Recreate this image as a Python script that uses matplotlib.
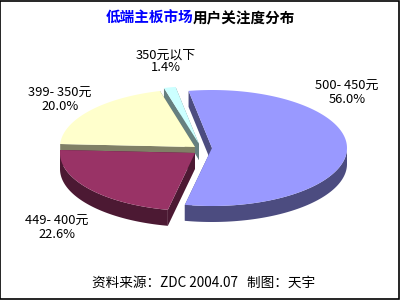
import numpy as np
import matplotlib
matplotlib.use("Agg")
import matplotlib.pyplot as plt
from matplotlib.patches import Polygon, Rectangle

plt.rcParams['font.family'] = ['Noto Sans CJK SC', 'DejaVu Sans']

# === Data ===
price_ranges = ["500- 450元", "449- 400元", "399- 350元", "350元以下"]
shares = [56.0, 22.6, 20.0, 1.4]
top_colors = ["#9999FF", "#993366", "#FFFFCC", "#CCFFFF"]
side_colors = ["#4C4C80", "#4C1933", "#808066", "#668080"]

# explode offsets (pixels) and label anchors
offsets = [(17, 1), (0, 6), (0, 0), (4, -3)]
label_pos = [(347, 93), (57, 228), (60, 100), (166, 61)]

# === Pie geometry (pixel space) ===
CX, CY = 195, 147
RX, RY = 135, 58
DEPTH = 16
START = 100.0  # degrees, slices go clockwise


def pt(cx, cy, ang, dz=0):
    a = np.radians(ang)
    return cx + RX * np.cos(a), cy - RY * np.sin(a) + dz


fig = plt.figure(figsize=(4, 3), dpi=100)
ax = fig.add_axes([0, 0, 1, 1])
ax.set_xlim(0, 400)
ax.set_ylim(300, 0)
ax.axis('off')

# slice angle ranges
slices = []
a = START
for i, s in enumerate(shares):
    a2 = a - s * 3.6
    slices.append((i, a2, a))  # ccw range [a2, a]
    a = a2

# back to front: by sin of mid angle
order = sorted(slices, key=lambda t: -np.sin(np.radians((t[1] + t[2]) / 2)))

for i, lo, hi in order:
    cx, cy = CX + offsets[i][0], CY + offsets[i][1]
    # radial faces
    for edge in (lo, hi):
        ex, ey = pt(cx, cy, edge)
        face = [(cx, cy), (ex, ey), (ex, ey + DEPTH), (cx, cy + DEPTH)]
        ax.add_patch(Polygon(face, closed=True, fc=side_colors[i], ec='none'))
    # outer wall (front half only)
    angs = np.linspace(lo, hi, 200)
    front = angs[np.sin(np.radians(angs)) <= 0]
    if len(front) > 1:
        upper = [pt(cx, cy, t) for t in front]
        lower = [pt(cx, cy, t, DEPTH) for t in front[::-1]]
        ax.add_patch(Polygon(upper + lower, closed=True, fc=side_colors[i], ec='none'))
    # top
    top = [(cx, cy)] + [pt(cx, cy, t) for t in angs]
    ax.add_patch(Polygon(top, closed=True, fc=top_colors[i], ec='none'))

# labels
for i, (x, y) in enumerate(label_pos):
    ax.text(x, y, f"{price_ranges[i]}\n{shares[i]:.1f}%", ha='center', va='center',
            fontsize=9.3, linespacing=0.95, color='black')

# title
ax.text(193, 18, "低端主板市场", ha='right', va='center', fontsize=10.5,
        fontweight='heavy', color='#0000FF')
ax.text(193, 18, "用户关注度分布", ha='left', va='center', fontsize=10.5,
        fontweight='heavy', color='black')

# footer
ax.text(204, 283, "资料来源：ZDC 2004.07   制图：天宇", ha='center', va='center',
        fontsize=9.8, color='black')

# frame
fig.patches.append(Rectangle((0.001, 0.002), 0.997, 0.995, transform=fig.transFigure,
                             fill=False, ec='black', lw=1.2))

fig.savefig("out.png", dpi=100)
